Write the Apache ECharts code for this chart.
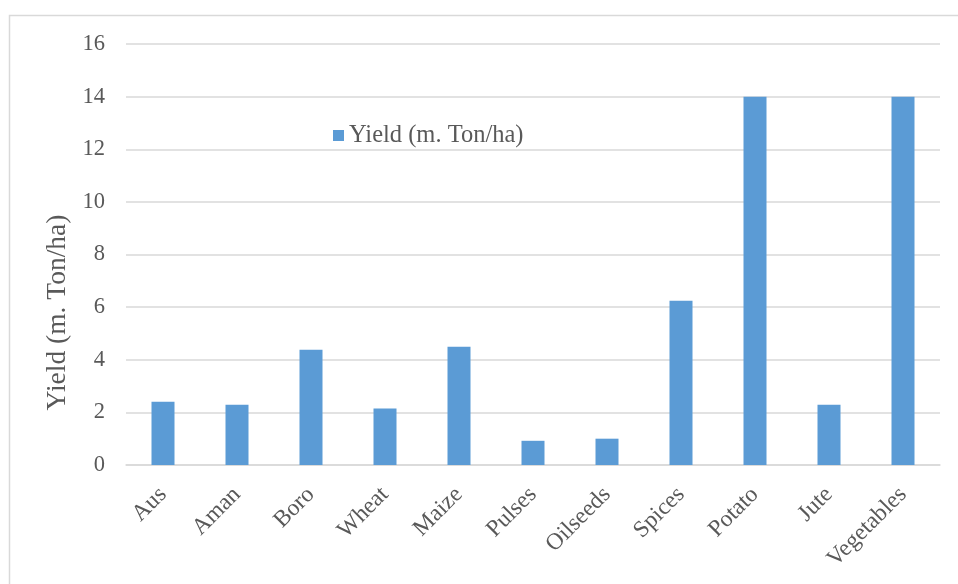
<!DOCTYPE html>
<html>
<head>
<meta charset="utf-8">
<script src="https://cdn.jsdelivr.net/npm/echarts@6/dist/echarts.min.js"></script>
<style>
  html, body { margin: 0; padding: 0; background: #ffffff; }
  #chart { width: 958px; height: 584px; }
</style>
</head>
<body>
<div id="chart"></div>
<script>
// Crop yields by category
const categories = ['Aus', 'Aman', 'Boro', 'Wheat', 'Maize', 'Pulses', 'Oilseeds', 'Spices', 'Potato', 'Jute', 'Vegetables'];
const yieldValues = [2.4, 2.29, 4.38, 2.15, 4.49, 0.92, 1.0, 6.24, 14, 2.29, 14];
const seriesName = 'Yield (m. Ton/ha)';
const axisTitle = 'Yield (m. Ton/ha)';

const FONT = '"Liberation Serif", "Times New Roman", Times, serif';
const TEXT = '#595959';
const GRID = '#d9d9d9';

const chart = echarts.init(document.getElementById('chart'), null, { renderer: 'canvas' });

chart.setOption({
  animation: false,
  backgroundColor: '#ffffff',
  graphic: [{
    type: 'rect',
    shape: { x: 9.5, y: 15.5, width: 1000, height: 620 },
    style: { fill: 'none', stroke: GRID, lineWidth: 1.5 },
    silent: true
  }],
  legend: {
    data: [seriesName],
    left: 328,
    top: 118,
    icon: 'rect',
    itemWidth: 11,
    itemHeight: 11,
    textStyle: { fontFamily: FONT, fontSize: 24.5, color: TEXT }
  },
  grid: {
    left: 126,
    right: 18,
    top: 44,
    bottom: 119,
    outerBoundsMode: 'none',
    containLabel: false
  },
  xAxis: {
    type: 'category',
    data: categories,
    axisLine: { lineStyle: { color: GRID, width: 1.5 } },
    axisTick: { show: false },
    axisLabel: {
      interval: 0,
      rotate: 45,
      margin: 26,
      fontFamily: FONT,
      fontSize: 23.5,
      color: TEXT
    }
  },
  yAxis: {
    type: 'value',
    min: 0,
    max: 16,
    interval: 2,
    name: axisTitle,
    nameLocation: 'middle',
    nameGap: 51,
    nameRotate: 90,
    nameTextStyle: {
      fontFamily: FONT,
      fontSize: 27.5,
      color: TEXT,
      padding: [0, 116, 0, 0]
    },
    axisLine: { show: false },
    axisTick: { show: false },
    splitLine: { lineStyle: { color: GRID, width: 1.5 } },
    axisLabel: {
      margin: 21,
      fontFamily: FONT,
      fontSize: 22.5,
      color: TEXT
    }
  },
  series: [{
    name: seriesName,
    type: 'bar',
    data: yieldValues,
    barWidth: 23,
    itemStyle: { color: '#5b9bd5' }
  }]
});
</script>
</body>
</html>
